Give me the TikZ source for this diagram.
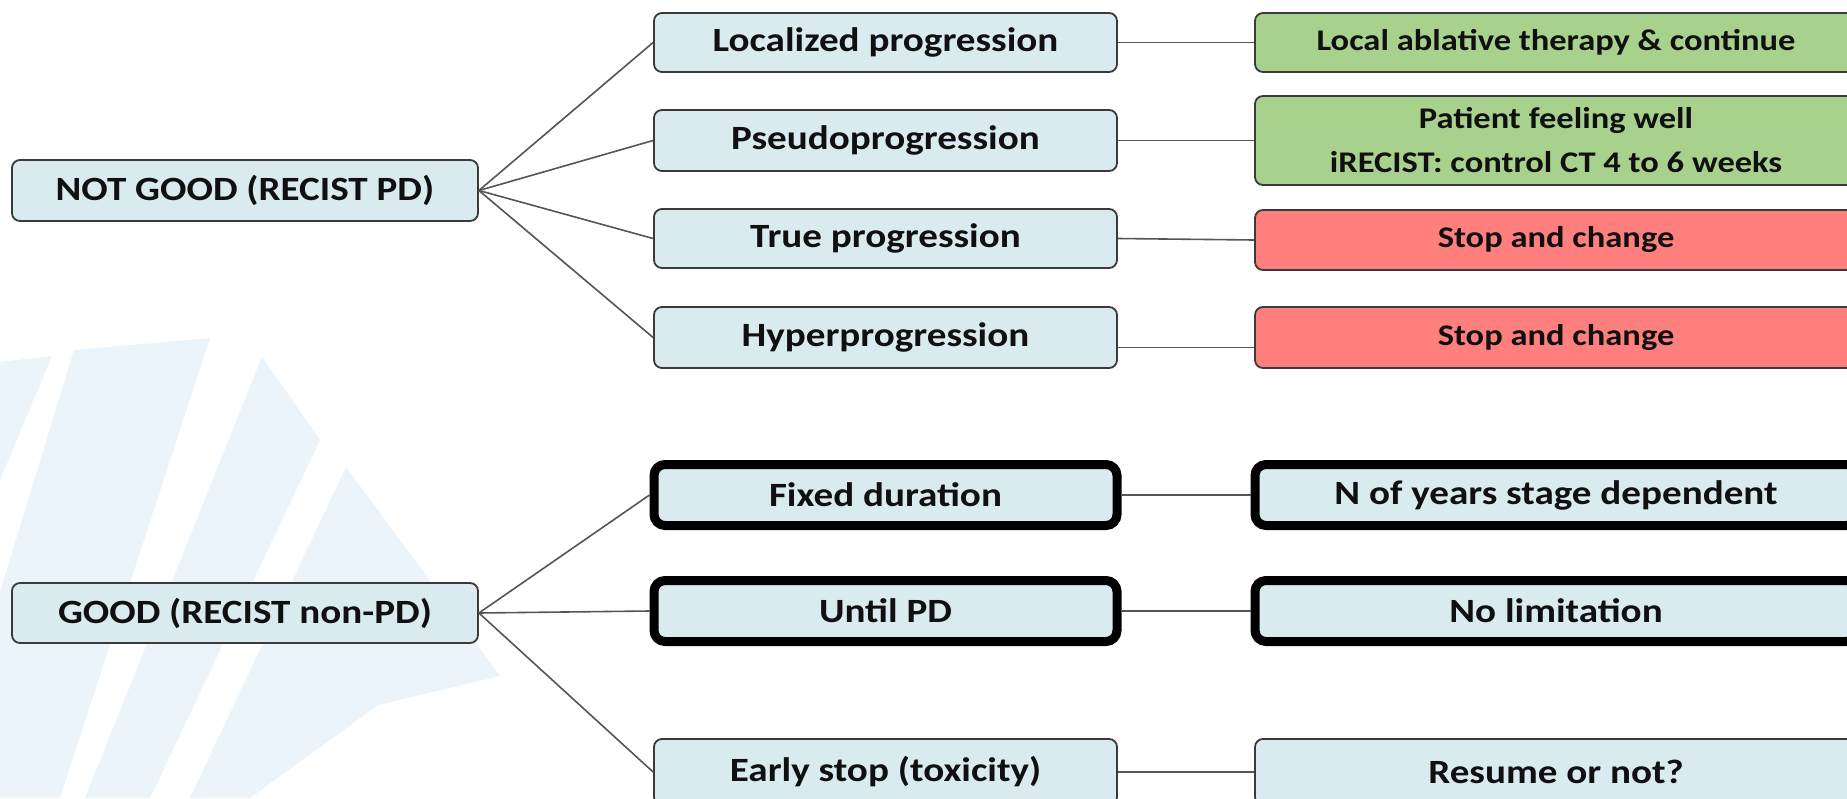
\documentclass[tikz,border=0pt]{standalone}
\usepackage{fontspec}
\newfontfamily\boxfont[FakeStretch=1.15]{Carlito}
\definecolor{paleblue}{HTML}{DAEBF0}
\definecolor{leafgreen}{HTML}{A9D18E}
\definecolor{salmon}{HTML}{FF7F7F}
\definecolor{edgegray}{HTML}{3A3A3A}
\definecolor{linkgray}{HTML}{555555}
\definecolor{wmark}{HTML}{EBF4FB}
\definecolor{inkblack}{HTML}{101010}

\begin{document}
\begin{tikzpicture}[x=1pt,y=-1pt,
  box/.style={draw=edgegray, line width=1.8pt, rounded corners=8pt, fill=paleblue,
    inner sep=0pt, align=center, text=inkblack,
    font=\boxfont\bfseries\fontsize{34}{40}\selectfont},
  lbox/.style={box, minimum width=466pt, minimum height=#1},
  mbox/.style={box, minimum width=463pt, minimum height=#1},
  rbox/.style={box, minimum width=602pt, minimum height=#1,
    font=\boxfont\bfseries\fontsize{30}{44}\selectfont},
  heavy/.style={draw=black, line width=9pt, rounded corners=11pt},
  bigtext/.style={font=\boxfont\bfseries\fontsize{34}{40}\selectfont},
  okbox/.style={fill=leafgreen},
  stopbox/.style={fill=salmon},
  link/.style={draw=linkgray, line width=1.6pt}
]
\useasboundingbox (0,0) rectangle (1847,798);
\clip (0,0) rectangle (1847,798);
\fill[white] (0,0) rectangle (1847,798);

% faint logo watermark, lower left
\fill[wmark] (0,362) -- (52,356) -- (0,480) -- cycle;
\fill[wmark] (74,350) -- (210,338) -- (60,798) -- (0,798) -- (0,592) -- cycle;
\fill[wmark] (262,357) -- (320,440) -- (150,798) -- (85,798) -- cycle;
\fill[wmark] (346,467) -- (408,551) -- (500,676) -- (378,705) -- (250,798) -- (190,798) -- cycle;

% first column
\node[lbox=61pt] (ng) at (245,190.5) {NOT GOOD (RECIST PD)};
\node[lbox=60pt] (gd) at (245,613) {GOOD (RECIST non-PD)};

% second column
\node[mbox=59pt] (loc)   at (885.5,42.5)  {Localized progression};
\node[mbox=61pt] (pseudo) at (885.5,140.5) {Pseudoprogression};
\node[mbox=59pt] (truep) at (885.5,238.5) {True progression};
\node[mbox=61pt] (hyper) at (885.5,337.5) {Hyperprogression};
\node[mbox=61pt, heavy] (fixed) at (885.5,495) {Fixed duration};
\node[mbox=61pt, heavy] (untilpd) at (885.5,611) {Until PD};
\node[mbox=66pt] (early) at (885.5,772) {Early stop (toxicity)};

% third column
\node[rbox=59pt, okbox] (abl) at (1556,42.5) {Local ablative therapy \& continue};
\node[rbox=89pt, okbox] (well) at (1556,140.5) {Patient feeling well\\iRECIST: control CT 4 to 6 weeks};
\node[rbox=60pt, stopbox] (stopa) at (1556,240) {Stop and change};
\node[rbox=61pt, stopbox] (stopb) at (1556,337.5) {Stop and change};
\node[rbox=61pt, heavy, bigtext] (years) at (1556,495) {N of years stage dependent};
\node[rbox=61pt, heavy, bigtext] (nolim) at (1556,611) {No limitation};
\node[rbox=66pt, bigtext] (resume) at (1556,772) {Resume or not?};

% fans
\foreach \t in {loc,pseudo,truep,hyper} \draw[link] (ng.east) -- (\t.west);
\foreach \t in {fixed,untilpd,early} \draw[link] (gd.east) -- (\t.west);

% straight links
\draw[link] (loc.east) -- (abl.west);
\draw[link] (pseudo.east) -- (well.west);
\draw[link] (truep.east) -- (stopa.west);
\draw[link] ([yshift=-10pt]hyper.east) -- ([yshift=-10pt]stopb.west);
\draw[link] (fixed.east) -- (years.west);
\draw[link] (untilpd.east) -- (nolim.west);
\draw[link] (early.east) -- (resume.west);
\end{tikzpicture}
\end{document}
